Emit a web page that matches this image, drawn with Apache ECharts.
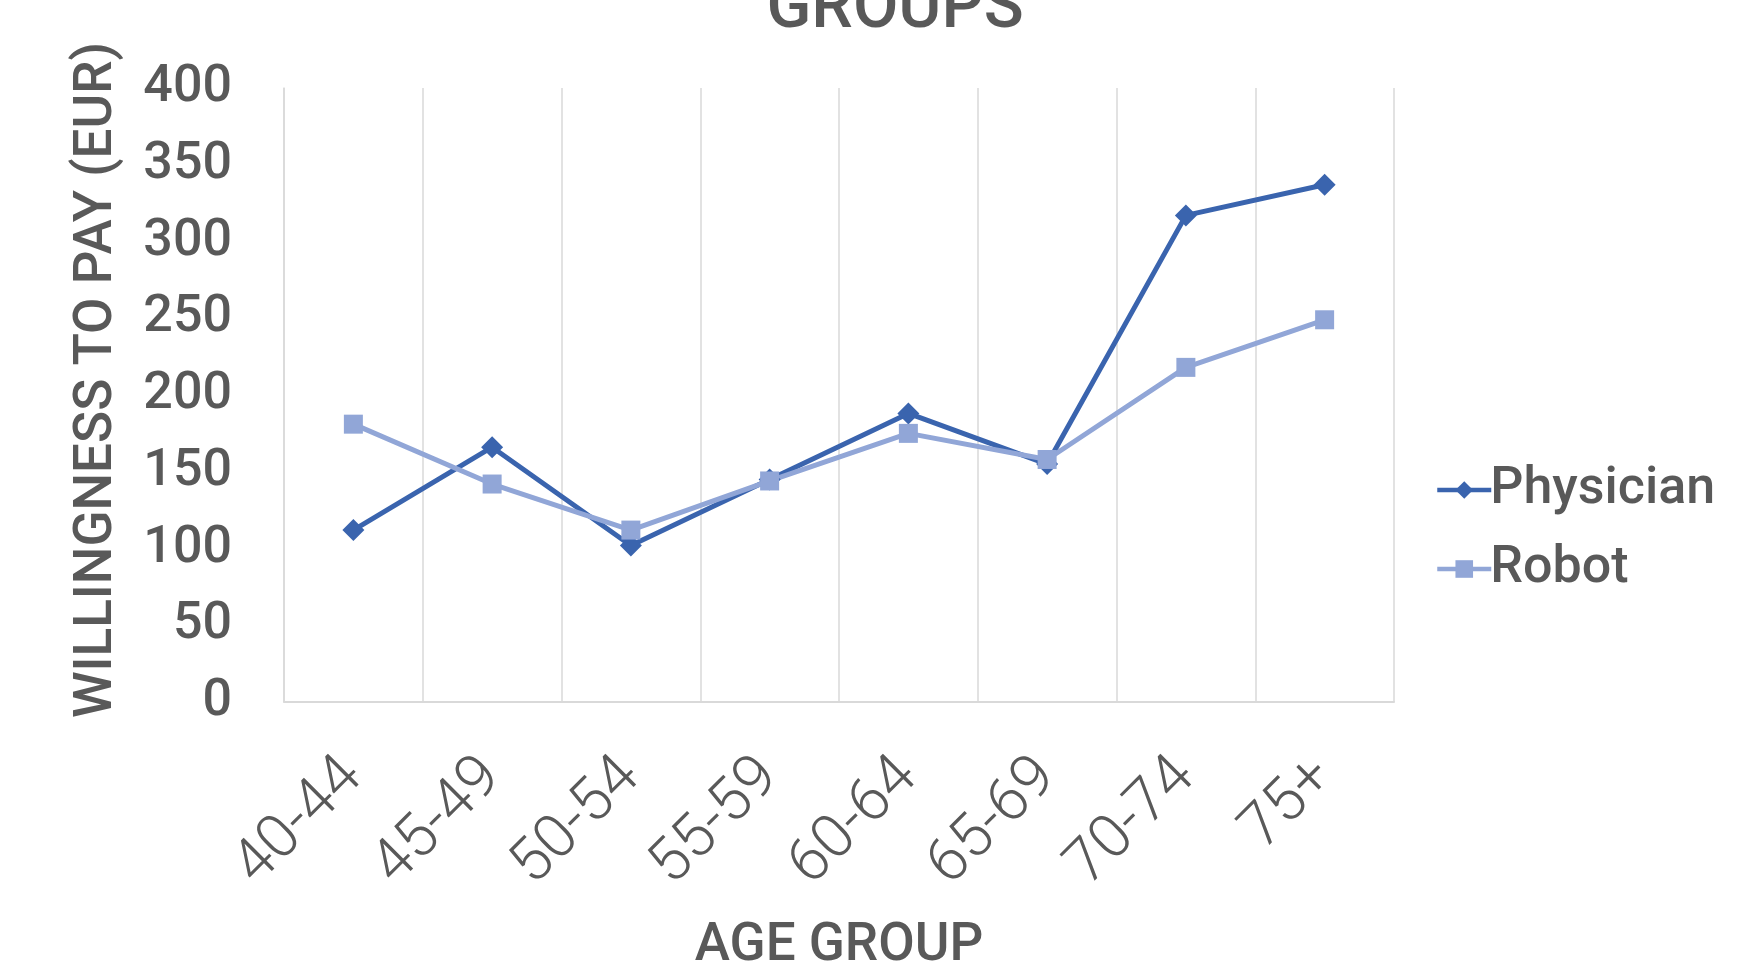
<!DOCTYPE html>
<html>
<head>
<meta charset="utf-8">
<script src="https://cdn.jsdelivr.net/npm/echarts@6/dist/echarts.min.js"></script>
<style>
  html, body { margin: 0; padding: 0; background: #fff; }
  #chart { width: 1748px; height: 961px; }
</style>
</head>
<body>
<div id="chart"></div>
<script>
// age groups on the x axis
const ageGroups = ['40-44', '45-49', '50-54', '55-59', '60-64', '65-69', '70-74', '75+'];
// willingness to pay, EUR
const physician = [112, 166, 102, 145, 188, 155, 317, 337];
const robot = [181, 142, 112, 144, 175, 158, 218, 249];
const yTicks = [0, 400, 50]; // min, max, step

const font = "Roboto, 'Noto Sans', sans-serif";
const grey = '#595959';

const chart = echarts.init(document.getElementById('chart'));
chart.setOption({
    animation: false,
    textStyle: { fontFamily: font },
    title: {
        text: 'GROUPS',
        left: 890,
        top: -28,
        textAlign: 'center',
        textStyle: { fontFamily: font, fontSize: 66, color: grey, fontWeight: 500 }
    },
    grid: { left: 284, right: 354, top: 88, bottom: 259, outerBoundsMode: 'none' },
    legend: {
        orient: 'vertical',
        left: 1430,
        top: 459,
        itemWidth: 54,
        itemHeight: 22,
        itemGap: 27,
        lineStyle: { width: 4.5 },
        textStyle: { fontFamily: font, fontSize: 52, color: grey, fontWeight: 500, padding: [0, 0, 0, -6] },
        data: ['Physician', 'Robot']
    },
    xAxis: {
        type: 'category',
        data: ageGroups,
        name: 'AGE GROUP',
        nameLocation: 'middle',
        nameGap: 218,
        nameTextStyle: { fontFamily: font, fontSize: 53, color: grey, fontWeight: 500 },
        axisLine: { lineStyle: { color: '#d9d9d9', width: 2 } },
        axisTick: { show: false },
        splitLine: { show: true, lineStyle: { color: '#d9d9d9', width: 1.5 } },
        axisLabel: {
            rotate: 45,
            margin: 66,
            fontSize: 61,
            fontWeight: 300,
            color: grey,
            fontFamily: font
        }
    },
    yAxis: {
        type: 'value',
        min: yTicks[0],
        max: yTicks[1],
        interval: yTicks[2],
        name: 'WILLINGNESS TO PAY (EUR)',
        nameLocation: 'middle',
        nameGap: 160,
        nameTextStyle: { fontFamily: font, fontSize: 53, color: grey, fontWeight: 500, padding: [0, 0, 0, 30] },
        axisLine: { show: true, lineStyle: { color: '#d9d9d9', width: 1.5 } },
        axisTick: { show: false },
        splitLine: { show: false },
        axisLabel: { margin: 52, fontSize: 52, color: grey, fontWeight: 500, fontFamily: font }
    },
    series: [
        {
            name: 'Physician',
            type: 'line',
            data: physician,
            symbol: 'diamond',
            symbolSize: 22,
            itemStyle: { color: '#3a64ae' },
            lineStyle: { color: '#3a64ae', width: 5 }
        },
        {
            name: 'Robot',
            type: 'line',
            data: robot,
            symbol: 'rect',
            symbolSize: 19,
            itemStyle: { color: '#91a6d7' },
            lineStyle: { color: '#91a6d7', width: 5 }
        }
    ]
});
</script>
</body>
</html>
